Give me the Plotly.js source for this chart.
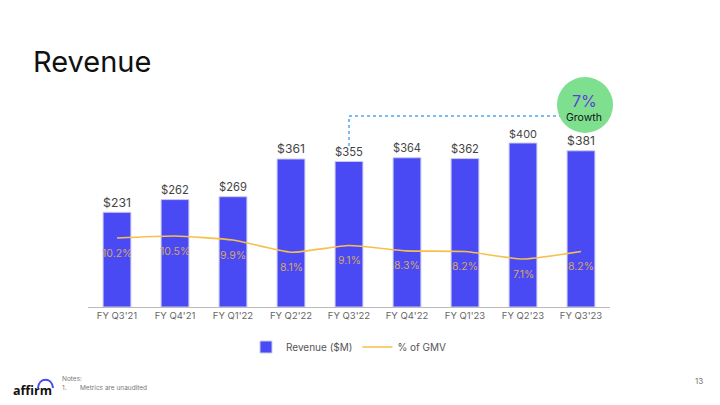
<!DOCTYPE html>
<html><head><meta charset="utf-8">
<script src="https://cdn.plot.ly/plotly-3.0.1.min.js"></script>
<style>html,body{margin:0;padding:0;background:#fff}#c{width:720px;height:405px}</style>
</head><body><div id="c"></div>
<script>
const categories = ["FY Q3'21","FY Q4'21","FY Q1'22","FY Q2'22","FY Q3'22","FY Q4'22","FY Q1'23","FY Q2'23","FY Q3'23"];
const revenue = [231,262,269,361,355,364,362,400,381];
const gmvPct = [10.2,10.5,9.9,8.1,9.1,8.3,8.2,7.1,8.2];

const L=88, R=610, T=80, B=307;
const px = x => (x-L)/(R-L);
const py = y => (B-y)/(B-T);
const FONT = "Inter, 'Open Sans', sans-serif";

const traces = [
 {type:'bar', name:'Revenue ($M)', x:categories, y:revenue,
  marker:{color:'#4a4af4', line:{color:'#c9c9f5', width:1}},
  text:revenue.map(v=>'$'+v), textposition:'outside', cliponaxis:false,
  textfont:{family:FONT, size:13.5, color:'#444'}, hoverinfo:'skip'},
 {type:'scatter', mode:'lines', name:'% of GMV', x:categories, y:gmvPct, yaxis:'y2',
  line:{color:'#f7c04a', width:1.6, shape:'spline', smoothing:0.5}, hoverinfo:'skip'}
];

function ann(x, y, text, size, color, xa, extra){
  return Object.assign({xref:'paper', yref:'paper', x:px(x), y:py(y), text, showarrow:false,
    xanchor:xa||'center', yanchor:'middle', borderpad:0, font:{family:FONT, size, color}}, extra||{});
}

const pctAnns = categories.map((c,i)=>({xref:'x', yref:'y2', x:c, y:gmvPct[i], yshift:-15,
  text:gmvPct[i].toFixed(1)+'%', showarrow:false, xanchor:'center', yanchor:'middle',
  font:{family:FONT, size:10.5, color:'#d4a664'}}));

const layout = {
 width:720, height:405, margin:{l:L, r:720-R, t:T, b:405-B},
 paper_bgcolor:'#fff', plot_bgcolor:'#fff',
 font:{family:FONT, color:'#555'},
 title:{text:'Revenue', x:33/720, xanchor:'left', xref:'container', yref:'container', y:1-62/405, yanchor:'middle',
  font:{family:FONT, size:29, color:'#111'}},
 bargap:0.52, showlegend:true,
 legend:{orientation:'h', x:0.5, xanchor:'center', y:py(347), yanchor:'middle',
  font:{family:FONT, size:10, color:'#555'}, itemwidth:30, traceorder:'normal'},
 xaxis:{type:'category', showline:true, linecolor:'#bbb', linewidth:1, ticks:'', showgrid:false,
  tickfont:{family:FONT, size:9.5, color:'#666'}, fixedrange:true},
 yaxis:{range:[0,(B-T)/0.41], visible:false, showgrid:false, fixedrange:true},
 yaxis2:{range:[0,(B-T)/6.76], overlaying:'y', visible:false, showgrid:false, fixedrange:true},
 shapes:[
  {type:'path', xref:'paper', yref:'paper', path:`M ${px(349)} ${py(146)} V ${py(116)} H ${px(560)}`,
   line:{color:'#4da6f5', width:1.5, dash:'dot'}},
  {type:'circle', xref:'paper', yref:'paper', x0:px(557), x1:px(613), y0:py(133), y1:py(77),
   fillcolor:'#7ee08f', line:{width:0}},
  {type:'path', xref:'paper', yref:'paper',
   path:`M ${px(38)} ${py(388)} C ${px(39)} ${py(377)}, ${px(52)} ${py(377)}, ${px(53)} ${py(388)}`,
   line:{color:'#4a4af4', width:2}}
 ],
 annotations:[
  ann(584, 101, '7%', 16, '#5b3fd6'),
  ann(584, 117, 'Growth', 10.5, '#111'),
  ann(12, 390, '<b>affirm</b>', 12.5, '#111', 'left', {font:{family:"'Open Sans', sans-serif", size:12.5, color:'#111'}}),
  ann(61, 379, 'Notes:', 6.5, '#777', 'left'),
  ann(61, 388, '1.', 6.5, '#777', 'left'),
  ann(79, 388, 'Metrics are unaudited', 6.5, '#777', 'left'),
  ann(699, 381, '13', 8, '#777')
 ].concat(pctAnns)
};
Plotly.newPlot('c', traces, layout, {displayModeBar:false, staticPlot:true});
</script></body></html>
